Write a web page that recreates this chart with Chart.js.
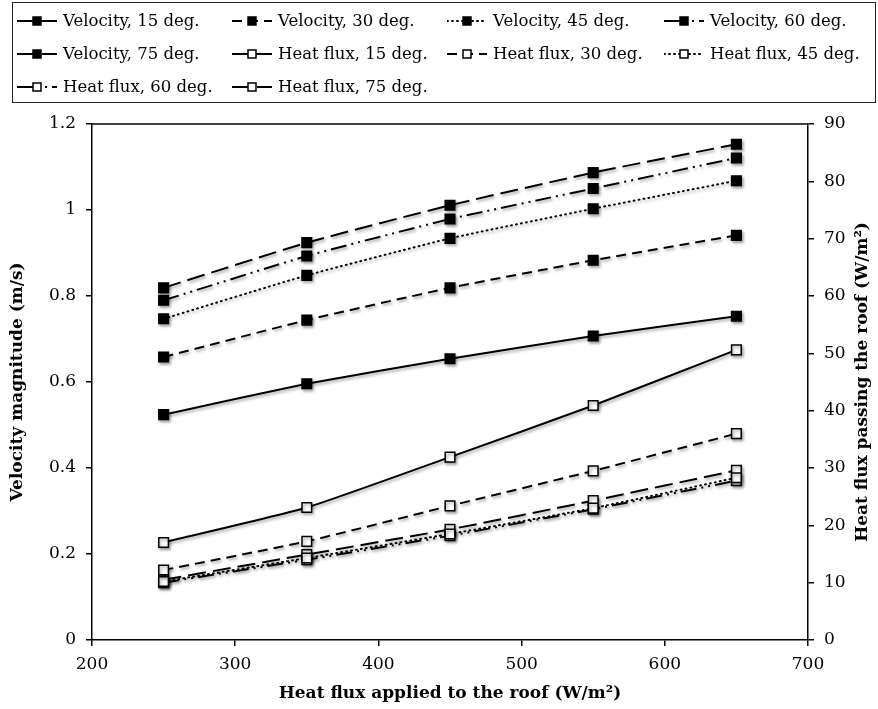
<!DOCTYPE html>
<html>
<head>
<meta charset="utf-8">
<script src="https://cdn.jsdelivr.net/npm/chart.js@4.4.0/dist/chart.umd.min.js"></script>
<style>
html,body{margin:0;padding:0;background:#fff}
#wrap{position:relative;width:878px;height:709px}
#grafico{position:absolute;left:0;top:0}
#legenda{position:absolute;left:12px;top:2px;width:864px;height:101px;box-sizing:border-box;border:1.5px solid #222;
display:grid;grid-template-columns:215px 215px 217px 214px;grid-auto-rows:33px;padding:1px 0 0 4px;
font-family:"DejaVu Serif",serif;font-size:16.5px;color:#000}
.item{display:flex;align-items:center;white-space:nowrap}
.item svg{margin-right:6px;flex:none}
</style>
</head>
<body>
<div id="wrap">
<canvas id="grafico" width="878" height="709"></canvas>
<div id="legenda"></div>
</div>
<script>
// heat flux applied to the roof (W/m2)
const fluxo=[250,350,450,550,650]

// velocity magnitude (m/s) per roof angle
const vel15=[0.524,0.596,0.654,0.707,0.753]
const vel30=[0.658,0.744,0.819,0.883,0.941]
const vel45=[0.747,0.848,0.934,1.003,1.068]
const vel60=[0.790,0.893,0.979,1.050,1.121]
const vel75=[0.819,0.924,1.011,1.087,1.153]

// heat flux passing the roof (W/m2) per roof angle
const calor15=[17.0,23.1,31.9,40.9,50.6]
const calor30=[12.2,17.2,23.4,29.5,36.0]
const calor45=[10.2,14.3,18.5,23.0,28.3]
const calor60=[10.0,14.0,18.2,22.8,27.8]
const calor75=[10.5,14.9,19.3,24.3,29.6]

const angulos=["15","30","45","60","75"]

// line dash per angle
const tracos={
"15":[],
"30":[10,6],
"45":[1,4],
"60":[16,5,2,5,2,5],
"75":[18,7]
}

const fonte='"DejaVu Serif", serif'
const tituloDireita="Heat flux passing the roof (W/m²)"

function pontos(vals){
return vals.map((v,i)=>({x:fluxo[i],y:v}))
}

function serie(nome,vals,ang,eixo,cheio){
return {
label:nome,
data:pontos(vals),
yAxisID:eixo,
borderColor:"#000",
borderWidth:2,
borderDash:tracos[ang],
borderCapStyle:ang=="45"?"round":"butt",
pointStyle:"rect",
pointRadius:6.8,
pointHoverRadius:6.8,
pointBorderWidth:1.5,
pointBorderColor:"#000",
pointBackgroundColor:cheio?"#000":"#fff",
backgroundColor:cheio?"#000":"#fff",
fill:false,
tension:0.15,
cheio:cheio
}
}

const velocidades=[vel15,vel30,vel45,vel60,vel75]
const calores=[calor15,calor30,calor45,calor60,calor75]

let datasets=[]
angulos.forEach((a,i)=>{
datasets.push(serie("Velocity, "+a+" deg.",velocidades[i],a,"y",true))
})
angulos.forEach((a,i)=>{
datasets.push(serie("Heat flux, "+a+" deg.",calores[i],a,"y2",false))
})

// soft shadow under lines and markers, top frame line, right axis title
const moldura={
id:"moldura",
beforeDatasetsDraw(chart){
const ctx=chart.ctx
ctx.save()
ctx.shadowColor="rgba(0,0,0,0.35)"
ctx.shadowBlur=3
ctx.shadowOffsetX=1.5
ctx.shadowOffsetY=2
},
afterDatasetsDraw(chart){
chart.ctx.restore()
},
afterDraw(chart){
const a=chart.chartArea
const ctx=chart.ctx
ctx.save()
ctx.strokeStyle="#000"
ctx.lineWidth=1.5
ctx.beginPath()
ctx.moveTo(a.left,a.top)
ctx.lineTo(a.right,a.top)
ctx.stroke()
// right title reads bottom to top like the left one
ctx.translate(chart.width-15,(a.top+a.bottom)/2)
ctx.rotate(-Math.PI/2)
ctx.fillStyle="#000"
ctx.font="bold 17px "+fonte
ctx.textAlign="center"
ctx.textBaseline="middle"
ctx.fillText(tituloDireita,0,0)
ctx.restore()
}
}

Chart.defaults.font.family=fonte
Chart.defaults.color="#000"

function eixoY(pos,min,max,passo,titulo,largura){
return {
type:"linear",
position:pos,
min:min,
max:max,
ticks:{stepSize:passo,padding:10,color:"#000",font:{size:17},callback:v=>String(+v.toFixed(1))},
grid:{drawOnChartArea:false,drawTicks:true,tickLength:6,color:"#000",lineWidth:1.5},
border:{display:true,color:"#000",width:1.5},
title:{display:!!titulo,text:titulo,color:"#000",font:{size:17,weight:"bold"},padding:{top:7,bottom:4}},
afterFit:s=>{s.width=largura}
}
}

new Chart(document.getElementById("grafico"),{
type:"line",
data:{datasets:datasets},
options:{
responsive:false,
animation:false,
layout:{padding:{top:124,left:0,right:0,bottom:0}},
plugins:{legend:{display:false},tooltip:{enabled:false}},
scales:{
x:{
type:"linear",
min:200,
max:700,
ticks:{stepSize:100,padding:8,color:"#000",font:{size:17}},
grid:{drawOnChartArea:false,drawTicks:true,tickLength:6,color:"#000",lineWidth:1.5},
border:{display:true,color:"#000",width:1.5},
title:{display:true,text:"Heat flux applied to the roof (W/m²)",color:"#000",font:{size:17,weight:"bold"},padding:{top:4,bottom:5}},
afterFit:s=>{s.height=69}
},
y:eixoY("left",0,1.2,0.2,"Velocity magnitude (m/s)",92),
y2:eixoY("right",0,90,10,"",70)
}
},
plugins:[moldura]
})

// legend built from the same datasets
const legenda=document.getElementById("legenda")
datasets.forEach(d=>{
let dash=d.borderDash.join(" ")
let cap=d.borderCapStyle
let svg='<svg width="40" height="14"><line x1="0" y1="7" x2="40" y2="7" stroke="#000" stroke-width="2" stroke-linecap="'+cap+'"'+
(dash?' stroke-dasharray="'+dash+'"':'')+'/>'+
'<rect x="16" y="3" width="8" height="8" fill="'+(d.cheio?"#000":"#fff")+'" stroke="#000" stroke-width="1.5"/></svg>'
let item=document.createElement("div")
item.className="item"
item.innerHTML=svg+"<span>"+d.label+"</span>"
legenda.appendChild(item)
})
</script>
</body>
</html>
